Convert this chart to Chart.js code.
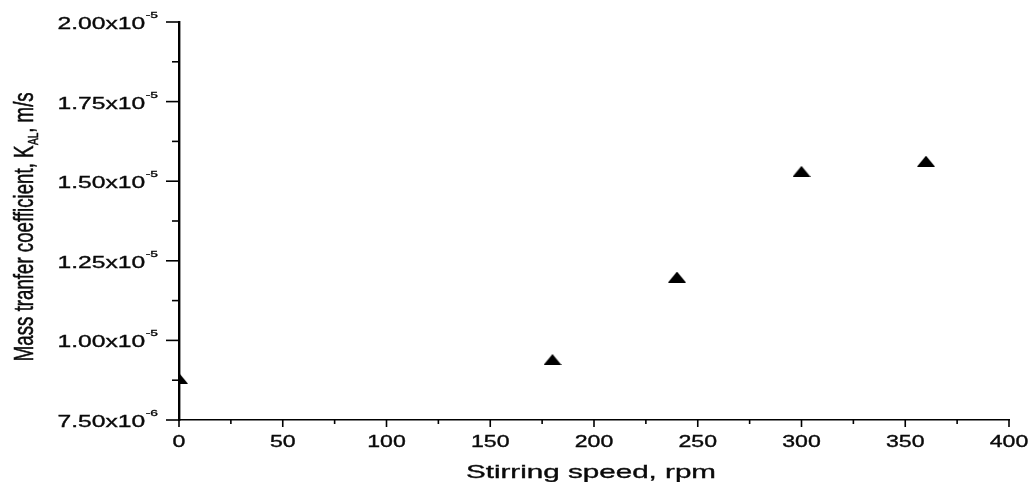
<!DOCTYPE html>
<html>
<head>
<meta charset="utf-8">
<script src="https://cdn.jsdelivr.net/npm/chart.js@4/dist/chart.umd.min.js"></script>
<style>
  html, body { margin: 0; padding: 0; background: #fff; }
  #wrap { width: 1031px; height: 482px; }
</style>
</head>
<body>
<div id="wrap"><canvas id="chart"></canvas></div>
<script>
// data
const speeds = [0, 180, 240, 300, 360];
const kAL = [8.81e-6, 9.40e-6, 1.199e-5, 1.531e-5, 1.563e-5];

const xTicks = [0, 50, 100, 150, 200, 250, 300, 350, 400];
const xTickText = ["0", "50", "100", "150", "200", "250", "300", "350", "400"];
const yTicks = [7.5e-6, 1.0e-5, 1.25e-5, 1.5e-5, 1.75e-5, 2.0e-5];
const yTickText = ["7.50", "1.00", "1.25", "1.50", "1.75", "2.00"];
const yTickExp = ["-6", "-5", "-5", "-5", "-5", "-5"];

const xTitle = "Stirring speed, rpm";
const yTitle = ["Mass tranfer coefficient, K", "AL", ", m/s"];

const FONT = "'Liberation Sans', Arial, sans-serif";
const INK = "#0a0a0a";

// flat black triangle marker
const marker = document.createElement("canvas");
marker.width = 18;
marker.height = 11;
{
  const m = marker.getContext("2d");
  m.fillStyle = "#000";
  m.beginPath();
  m.moveTo(9, 0);
  m.lineTo(18, 11);
  m.lineTo(0, 11);
  m.closePath();
  m.fill();
}

// fill plus a hairline stroke, the original text is a bit heavy
const inkText = (ctx, text, x, y) => {
  ctx.fillText(text, x, y);
  ctx.lineWidth = 0.35;
  ctx.strokeStyle = INK;
  ctx.strokeText(text, x, y);
};

// text squeezed wider, like the stretched original
const wideText = (ctx, text, x, y, sx, align, font) => {
  ctx.save();
  ctx.translate(x, y);
  ctx.scale(sx, 1);
  ctx.font = font;
  ctx.textAlign = align;
  ctx.textBaseline = "alphabetic";
  inkText(ctx, text, 0, 0);
  ctx.restore();
};

const axisDecor = {
  id: "axisDecor",
  afterDraw(chart) {
    const { ctx, chartArea } = chart;
    const xs = chart.scales.x;
    const ys = chart.scales.y;
    const left = chartArea.left;
    const bottom = chartArea.bottom;
    ctx.save();
    ctx.strokeStyle = "#000";
    ctx.fillStyle = INK;

    // y tick marks
    ctx.lineWidth = 1.6;
    yTicks.forEach((v, i) => {
      const py = ys.getPixelForValue(v);
      ctx.beginPath();
      ctx.moveTo(left - 13, py);
      ctx.lineTo(left, py);
      ctx.stroke();
      if (i < yTicks.length - 1) {
        const pm = ys.getPixelForValue((v + yTicks[i + 1]) / 2);
        ctx.beginPath();
        ctx.moveTo(left - 7, pm);
        ctx.lineTo(left, pm);
        ctx.stroke();
      }
    });

    // x tick marks
    xTicks.forEach((v, i) => {
      const px = xs.getPixelForValue(v);
      ctx.beginPath();
      ctx.moveTo(px, bottom);
      ctx.lineTo(px, bottom + 7);
      ctx.stroke();
      if (i < xTicks.length - 1) {
        const pm = xs.getPixelForValue((v + xTicks[i + 1]) / 2);
        ctx.beginPath();
        ctx.moveTo(pm, bottom);
        ctx.lineTo(pm, bottom + 4);
        ctx.stroke();
      }
    });

    // y tick labels: mantissa x10 with superscript exponent
    const sy = 1.45;
    const mainFont = "17px " + FONT;
    const expFont = "9.5px " + FONT;
    const labelRight = left - 21;
    yTicks.forEach((v, i) => {
      const py = ys.getPixelForValue(v);
      ctx.font = expFont;
      const ew = ctx.measureText(yTickExp[i]).width * sy;
      wideText(ctx, yTickExp[i], labelRight, py - 4, sy, "right", expFont);
      wideText(ctx, yTickText[i] + "x10", labelRight - ew - 0.5, py + 7, sy, "right", mainFont);
    });

    // x tick labels
    xTicks.forEach((v, i) => {
      const px = xs.getPixelForValue(v);
      wideText(ctx, xTickText[i], px, bottom + 27, 1.4, "center", "16.5px " + FONT);
    });

    // x title
    wideText(ctx, xTitle, (chartArea.left + chartArea.right) / 2 - 3, bottom + 58, 1.6, "center", "18.5px " + FONT);

    // y title, rotated, with subscript
    const tf = "18.7px " + FONT;
    const sf = "10px " + FONT;
    ctx.font = tf;
    const w1 = ctx.measureText(yTitle[0]).width;
    const w3 = ctx.measureText(yTitle[2]).width;
    ctx.font = sf;
    const w2 = ctx.measureText(yTitle[1]).width;
    const total = w1 + w2 + w3;
    ctx.save();
    ctx.translate(33, 227);
    ctx.scale(1.5, 1);
    ctx.rotate(-Math.PI / 2);
    ctx.textBaseline = "alphabetic";
    ctx.textAlign = "left";
    let tx = -total / 2;
    ctx.font = tf;
    inkText(ctx, yTitle[0], tx, 0);
    tx += w1;
    ctx.font = sf;
    inkText(ctx, yTitle[1], tx + 0.5, 3.3);
    tx += w2 + 0.5;
    ctx.font = tf;
    inkText(ctx, yTitle[2], tx, 0);
    ctx.restore();

    ctx.restore();
  },
};

new Chart(document.getElementById("chart"), {
  type: "scatter",
  data: {
    datasets: [
      {
        data: speeds.map((s, i) => ({ x: s, y: kAL[i] })),
        pointStyle: marker,
        pointRadius: 9,
        pointHoverRadius: 9,
        backgroundColor: "#000",
        borderColor: "#000",
        clip: { left: 0, top: false, right: false, bottom: false },
      },
    ],
  },
  options: {
    responsive: true,
    maintainAspectRatio: false,
    animation: false,
    devicePixelRatio: 1,
    layout: { padding: { left: 0, right: 22, top: 22, bottom: 0 } },
    plugins: {
      legend: { display: false },
      tooltip: { enabled: false },
    },
    scales: {
      x: {
        type: "linear",
        min: 0,
        max: 400,
        z: 1,
        grid: { display: false, drawTicks: false },
        border: { display: true, color: "#000", width: 1.6 },
        ticks: { display: false },
        afterFit: (scale) => {
          scale.height = 62;
        },
      },
      y: {
        type: "linear",
        min: 7.5e-6,
        max: 2.0e-5,
        z: 1,
        grid: { display: false, drawTicks: false },
        border: { display: true, color: "#000", width: 2.4 },
        ticks: { display: false },
        afterFit: (scale) => {
          scale.width = 179;
        },
      },
    },
  },
  plugins: [axisDecor],
});
</script>
</body>
</html>
